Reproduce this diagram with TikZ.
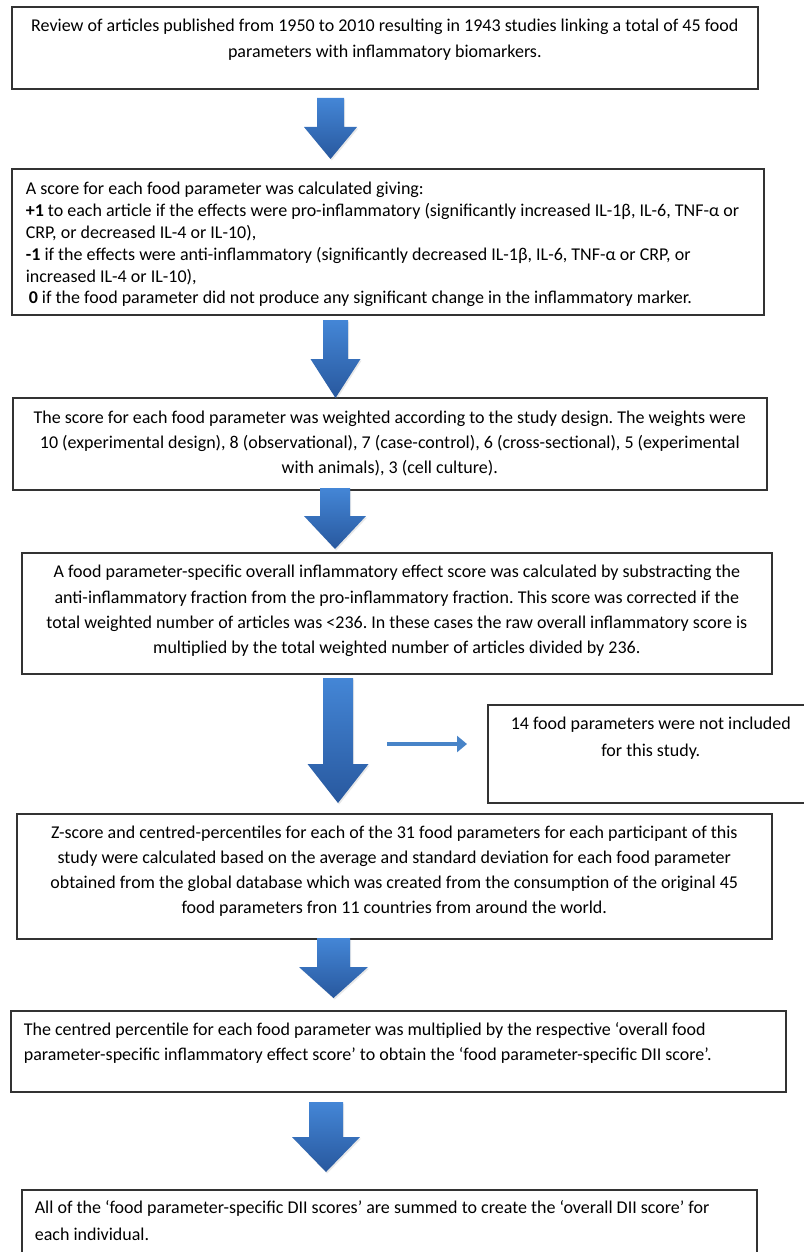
\documentclass[tikz,border=0pt]{standalone}
\usepackage{fontspec}
\setmainfont{Carlito}
\usetikzlibrary{arrows.meta, shadows}
\frenchspacing

\definecolor{arrowtop}{RGB}{68,134,214}
\definecolor{arrowbottom}{RGB}{40,88,158}
\definecolor{sideblue}{RGB}{72,132,200}

% top-aligned text of a box: height, width, top gap, text
\newcommand{\steptext}[4]{%
  \begin{minipage}[c][#1][t]{#2}\vspace*{#3}#4\end{minipage}}
\newcommand{\firstline}{\rule{0pt}{13pt}}

\begin{document}
\begin{tikzpicture}[x=1pt, y=-1pt, >={Triangle[length=10pt,width=16pt]}]
\tikzset{
  stepbox/.style={draw=black!80, line width=1.6pt, inner ysep=0pt, anchor=north west, text=black},
  blockarrow/.style={top color=arrowtop, bottom color=arrowbottom, draw=none,
    drop shadow={opacity=0.18, shadow xshift=1.2pt, shadow yshift=-1.5pt}},
  sidearrow/.style={->, draw=sideblue, line width=3.5pt}
}

\useasboundingbox (0,0) rectangle (803,1252);

%\draw[step=50, gray!30] (0,0) grid (803,1252);

\node[stepbox, inner xsep=10pt, font=\fontsize{18}{26}\selectfont] (review) at (11,6)
  {\steptext{82pt}{726pt}{12pt}{\centering\firstline
   Review of articles published from 1950 to 2010 resulting in 1943 studies linking a total of 45 food\\
   parameters with inflammatory biomarkers.}};

\node[stepbox, inner xsep=14pt, font=\fontsize{18}{21.8}\selectfont] (scoring) at (11,168)
  {\steptext{146pt}{724pt}{13pt}{\raggedright\firstline
   A score for each food parameter was calculated giving:\\
   \textbf{+1} to each article if the effects were pro-inflammatory (significantly increased IL-1β, IL-6, TNF-α or\\
   CRP, or decreased IL-4 or IL-10),\\
   \textbf{-1} if the effects were anti-inflammatory (significantly decreased IL-1β, IL-6, TNF-α or CRP, or\\
   increased IL-4 or IL-10),\\
   \hspace*{3pt}\textbf{0} if the food parameter did not produce any significant change in the inflammatory marker.}};

\node[stepbox, inner xsep=8pt, font=\fontsize{18}{25}\selectfont] (weighting) at (12,397)
  {\steptext{92pt}{738pt}{13pt}{\centering\firstline
   The score for each food parameter was weighted according to the study design. The weights were\\
   10 (experimental design), 8 (observational), 7 (case-control), 6 (cross-sectional), 5 (experimental\\
   with animals), 3 (cell culture).}};

\node[stepbox, inner xsep=8pt, font=\fontsize{18}{25.3}\selectfont] (effect) at (21,552)
  {\steptext{121pt}{734pt}{12pt}{\centering\firstline
   A food parameter-specific overall inflammatory effect score was calculated by substracting the\\
   anti-inflammatory fraction from the pro-inflammatory fraction. This score was corrected if the\\
   total weighted number of articles was <236. In these cases the raw overall inflammatory score is\\
   multiplied by the total weighted number of articles divided by 236.}};

\node[stepbox, inner xsep=8pt, font=\fontsize{18}{27}\selectfont] (excluded) at (487,704)
  {\steptext{98pt}{310pt}{12pt}{\centering\firstline
   14 food parameters were not included\\
   for this study.}};

\node[stepbox, inner xsep=8pt, font=\fontsize{18}{25}\selectfont] (zscore) at (16,813)
  {\steptext{125pt}{739pt}{12pt}{\centering\firstline
   Z-score and centred-percentiles for each of the 31 food parameters for each participant of this\\
   study were calculated based on the average and standard deviation for each food parameter\\
   obtained from the global database which was created from the consumption of the original 45\\
   food parameters fron 11 countries from around the world.}};

\node[stepbox, inner xsep=13pt, font=\fontsize{18}{25}\selectfont] (centred) at (10,1010)
  {\steptext{81pt}{749pt}{12pt}{\raggedright\firstline
   The centred percentile for each food parameter was multiplied by the respective ‘overall food\\
   parameter-specific inflammatory effect score’ to obtain the ‘food parameter-specific DII score’.}};

\node[stepbox, inner xsep=13pt, font=\fontsize{18}{27}\selectfont] (overall) at (21,1189)
  {\steptext{100pt}{709pt}{11pt}{\raggedright\firstline
   All of the ‘food parameter-specific DII scores’ are summed to create the ‘overall DII score’ for\\
   each individual.}};

% block arrows: centre/top/head/tip/half shaft/half head
\foreach \cx/\ya/\yb/\yc/\sw/\hw in {330.5/98/127/159/13.5/26.5, 335.5/320/359/398/12.5/25,
    335/488/516/549/15/31, 338/678/764/803/15/30.5, 333.5/938/967/998/16.5/34.5, 326/1102/1137/1172/17/34}
  \shade[blockarrow] (\cx-\sw,\ya) -- (\cx+\sw,\ya) -- (\cx+\sw,\yb) -- (\cx+\hw,\yb)
    -- (\cx,\yc) -- (\cx-\hw,\yb) -- (\cx-\sw,\yb) -- cycle;

\coordinate (sidefrom) at (387,744);
\draw[sidearrow, shorten >=20pt] (sidefrom) -- (sidefrom -| excluded.west);

\end{tikzpicture}
\end{document}
